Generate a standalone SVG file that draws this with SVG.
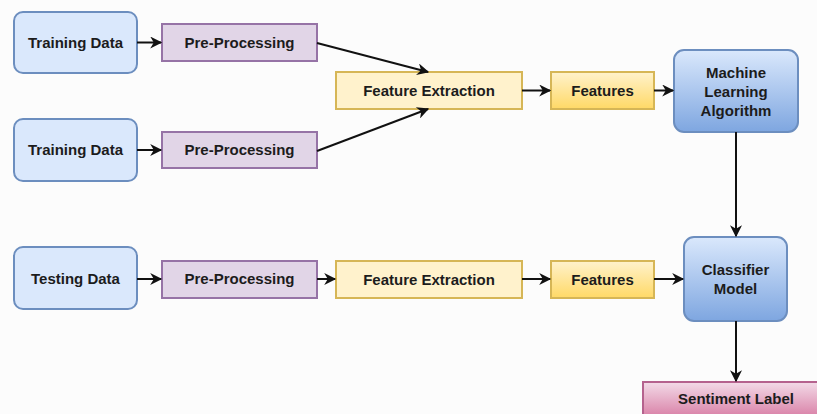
<svg xmlns="http://www.w3.org/2000/svg" width="817" height="414" viewBox="0 0 817 414">
<defs>
<linearGradient id="gBlue" x1="0" y1="0" x2="0" y2="1"><stop offset="0" stop-color="#dae8fc"/><stop offset="1" stop-color="#7ea6e0"/></linearGradient>
<linearGradient id="gYel" x1="0" y1="0" x2="0" y2="1"><stop offset="0" stop-color="#fff2cc"/><stop offset="1" stop-color="#ffd966"/></linearGradient>
<linearGradient id="gPink" x1="0" y1="0" x2="0" y2="1"><stop offset="0" stop-color="#f3dbe8"/><stop offset="1" stop-color="#d5739d"/></linearGradient>
<marker id="arr" viewBox="0 0 10 10" refX="9" refY="5" markerWidth="6" markerHeight="6" markerUnits="userSpaceOnUse" orient="auto" overflow="visible">
<path d="M0,0 L10,5 L0,10 L3,5 Z" fill="#111"/>
</marker>
<marker id="arrh" viewBox="0 0 10 10" refX="9" refY="5" markerWidth="14" markerHeight="12" markerUnits="userSpaceOnUse" orient="auto">
<path d="M0,0 L10,5 L0,10 L3,5 Z" fill="#111"/>
</marker>
</defs>
<style>
text{font-family:"Liberation Sans",Arial,sans-serif;font-weight:bold;font-size:15px;fill:#1c1c1c;text-anchor:middle;dominant-baseline:central}
.data{fill:#dae8fc;stroke:#6c8ebf;stroke-width:2}
.pre{fill:#e1d5e7;stroke:#9673a6;stroke-width:2}
.fe{fill:#fff2cc;stroke:#d6b656;stroke-width:2}
.feat{fill:url(#gYel);stroke:#d6b656;stroke-width:2}
.algo{fill:url(#gBlue);stroke:#6c8ebf;stroke-width:2}
.lbl{fill:url(#gPink);stroke:#b5628e;stroke-width:2}
.c{fill:none;stroke:#111;stroke-width:2;marker-end:url(#arrh)}
</style>
<rect width="817" height="414" fill="#fcfcfc"/>
<g id="train1"><rect class="data" x="14" y="12" width="123" height="61" rx="9"/><text x="75.5" y="42.5">Training Data</text></g>
<g id="train2"><rect class="data" x="14" y="119" width="123" height="62" rx="9"/><text x="75.5" y="149">Training Data</text></g>
<g id="test"><rect class="data" x="14" y="247" width="123" height="62" rx="9"/><text x="75.5" y="278">Testing Data</text></g>
<g id="pre1"><rect class="pre" x="162" y="24" width="155" height="37"/><text x="239.5" y="42">Pre-Processing</text></g>
<g id="pre2"><rect class="pre" x="162" y="132" width="155" height="36"/><text x="239.5" y="149">Pre-Processing</text></g>
<g id="pre3"><rect class="pre" x="162" y="261" width="155" height="37"/><text x="239.5" y="278">Pre-Processing</text></g>
<g id="fe1"><rect class="fe" x="336" y="72" width="186" height="37"/><text x="429" y="90">Feature Extraction</text></g>
<g id="fe2"><rect class="fe" x="336" y="261" width="186" height="37"/><text x="429" y="279">Feature Extraction</text></g>
<g id="feat1"><rect class="feat" x="551" y="72" width="103" height="37"/><text x="602.5" y="90">Features</text></g>
<g id="feat2"><rect class="feat" x="551" y="261" width="103" height="37"/><text x="602.5" y="279">Features</text></g>
<g id="mla"><rect class="algo" x="674" y="50" width="124" height="82" rx="10"/><text x="736" y="72">Machine</text><text x="736" y="91">Learning</text><text x="736" y="110">Algorithm</text></g>
<g id="clf"><rect class="algo" x="684" y="237" width="103" height="84" rx="10"/><text x="735.5" y="269">Classifier</text><text x="735.5" y="288">Model</text></g>
<g id="sent"><rect class="lbl" x="643" y="382" width="186" height="40"/><text x="736" y="398">Sentiment Label</text></g>
<g id="connectors">
<line class="c" x1="137" y1="42.5" x2="161" y2="42.5"/>
<line class="c" x1="137" y1="150" x2="161" y2="150"/>
<line class="c" x1="137" y1="279" x2="161" y2="279"/>
<line class="c" x1="317" y1="43" x2="428" y2="72"/>
<line class="c" x1="317" y1="151" x2="428" y2="109"/>
<line class="c" x1="317" y1="279" x2="335" y2="279"/>
<line class="c" x1="522" y1="90.5" x2="550" y2="90.5"/>
<line class="c" x1="522" y1="279" x2="550" y2="279"/>
<line class="c" x1="654" y1="90.5" x2="673" y2="90.5"/>
<line class="c" x1="654" y1="279" x2="683" y2="279"/>
<line class="c" x1="736" y1="132" x2="736" y2="236"/>
<line class="c" x1="736" y1="321" x2="736" y2="381"/>
</g>
</svg>
